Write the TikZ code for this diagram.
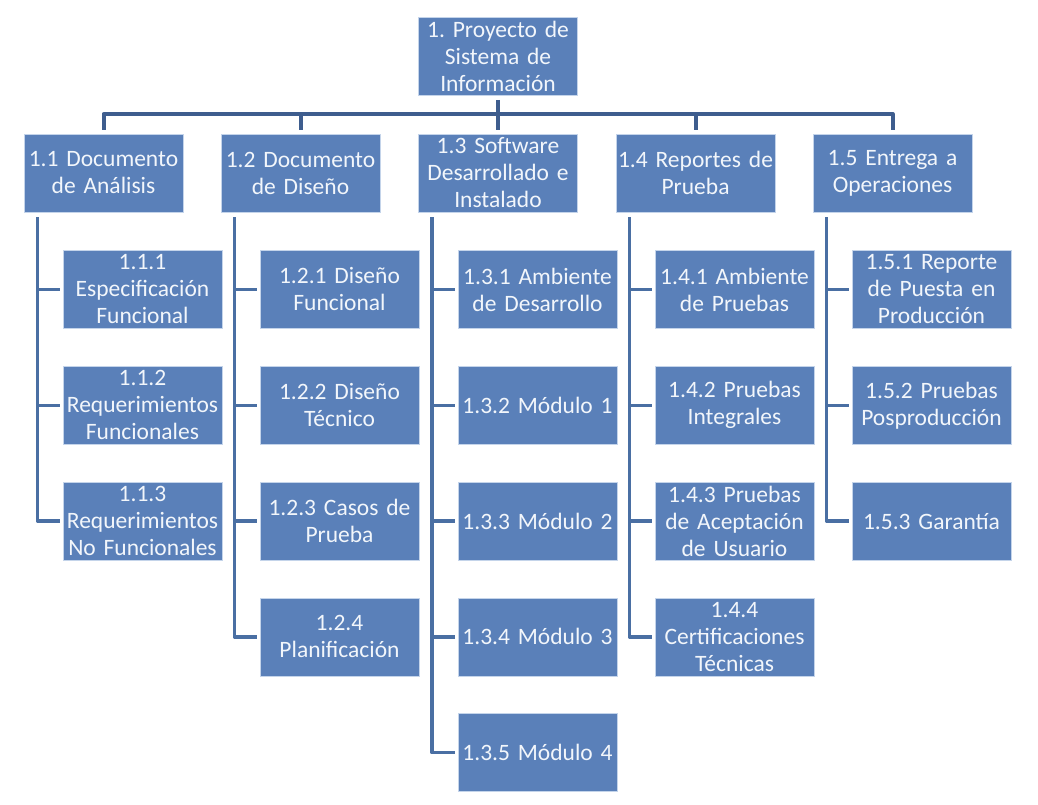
\documentclass[tikz,border=0pt]{standalone}
\usepackage{fontspec}
\setmainfont{Carlito}
\usetikzlibrary{calc}
\usetikzlibrary{positioning}

\definecolor{boxfill}{RGB}{90,128,185}
\definecolor{boxline}{RGB}{196,212,234}
\definecolor{boxtext}{RGB}{242,246,251}
\definecolor{linkblue}{RGB}{74,111,163}
\definecolor{barblue}{RGB}{62,93,142}

\begin{document}
\frenchspacing
\begin{tikzpicture}[%
  x=1pt, y=-1pt,
  box/.style={draw=boxline, line width=0.8pt, fill=boxfill, text=boxtext,
    inner sep=0pt, text width=159pt, minimum height=78pt, align=center,
    font=\fontsize{23.5}{27}\selectfont},
  bar/.style={draw=barblue, line width=4pt, line join=round},
  link/.style={draw=linkblue, line width=3.5pt, line join=round},
]

  \useasboundingbox (0,0) rectangle (1038,805);

  \node[box] (p) at (498,56.5) {1. Proyecto de\\Sistema de\\Información};

  \node[box] (d1) at (103.5,173) {1.1 Documento\\de Análisis};
  \node[box] (d2) at (300.5,173) {1.2 Documento\\de Diseño};
  \node[box] (d3) at (498,173) {1.3 Software\\Desarrollado e\\Instalado};
  \node[box] (d4) at (695.5,173) {1.4 Reportes de\\Prueba};
  \node[box] (d5) at (892.5,173) {1.5 Entrega a\\Operaciones};

  \node[box] (d11) at (142.5,289.5) {1.1.1\\Especificación\\Funcional};
  \node[box, below=37pt of d11] (d12) {1.1.2\\Requerimientos\\Funcionales};
  \node[box, below=37pt of d12] (d13) {1.1.3\\Requerimientos\\No Funcionales};

  \node[box] (d21) at (339.5,289.5) {1.2.1 Diseño\\Funcional};
  \node[box, below=37pt of d21] (d22) {1.2.2 Diseño\\Técnico};
  \node[box, below=37pt of d22] (d23) {1.2.3 Casos de\\Prueba};
  \node[box, below=37pt of d23] (d24) {1.2.4\\Planificación};

  \node[box] (d31) at (537.5,289.5) {1.3.1 Ambiente\\de Desarrollo};
  \node[box, below=37pt of d31] (d32) {1.3.2 Módulo 1};
  \node[box, below=37pt of d32] (d33) {1.3.3 Módulo 2};
  \node[box, below=37pt of d33] (d34) {1.3.4 Módulo 3};
  \node[box, below=37pt of d34] (d35) {1.3.5 Módulo 4};

  \node[box] (d41) at (734.5,289.5) {1.4.1 Ambiente\\de Pruebas};
  \node[box, below=37pt of d41] (d42) {1.4.2 Pruebas\\Integrales};
  \node[box, below=37pt of d42] (d43) {1.4.3 Pruebas\\de Aceptación\\de Usuario};
  \node[box, below=37pt of d43] (d44) {1.4.4\\Certificaciones\\Técnicas};

  \node[box] (d51) at (931.5,289.5) {1.5.1 Reporte\\de Puesta en\\Producción};
  \node[box, below=37pt of d51] (d52) {1.5.2 Pruebas\\Posproducción};
  \node[box, below=37pt of d52] (d53) {1.5.3 Garantía};

  % top level
  \coordinate (hub) at (498,114);
  \draw[bar] ([yshift=-4pt]p.south) -- (hub);
  \draw[bar] (hub) -| ([yshift=4pt]d1.north);
  \draw[bar] (hub) -| ([yshift=4pt]d2.north);
  \draw[bar] (hub) -| ([yshift=4pt]d3.north);
  \draw[bar] (hub) -| ([yshift=4pt]d4.north);
  \draw[bar] (hub) -| ([yshift=4pt]d5.north);

  % second level
  \coordinate (s1) at ([xshift=14pt,yshift=-5pt]d1.south west);
  \coordinate (s2) at ([xshift=14pt,yshift=-5pt]d2.south west);
  \coordinate (s3) at ([xshift=14pt,yshift=-5pt]d3.south west);
  \coordinate (s4) at ([xshift=14pt,yshift=-5pt]d4.south west);
  \coordinate (s5) at ([xshift=14pt,yshift=-5pt]d5.south west);

  \draw[link] (s1) |- ([xshift=-3pt]d11.west);
  \draw[link] (s1) |- ([xshift=-3pt]d12.west);
  \draw[link] (s1) |- ([xshift=-3pt]d13.west);

  \draw[link] (s2) |- ([xshift=-3pt]d21.west);
  \draw[link] (s2) |- ([xshift=-3pt]d22.west);
  \draw[link] (s2) |- ([xshift=-3pt]d23.west);
  \draw[link] (s2) |- ([xshift=-3pt]d24.west);

  \draw[link] (s3) |- ([xshift=-3pt]d31.west);
  \draw[link] (s3) |- ([xshift=-3pt]d32.west);
  \draw[link] (s3) |- ([xshift=-3pt]d33.west);
  \draw[link] (s3) |- ([xshift=-3pt]d34.west);
  \draw[link] (s3) |- ([xshift=-3pt]d35.west);

  \draw[link] (s4) |- ([xshift=-3pt]d41.west);
  \draw[link] (s4) |- ([xshift=-3pt]d42.west);
  \draw[link] (s4) |- ([xshift=-3pt]d43.west);
  \draw[link] (s4) |- ([xshift=-3pt]d44.west);

  \draw[link] (s5) |- ([xshift=-3pt]d51.west);
  \draw[link] (s5) |- ([xshift=-3pt]d52.west);
  \draw[link] (s5) |- ([xshift=-3pt]d53.west);

\end{tikzpicture}
\end{document}
